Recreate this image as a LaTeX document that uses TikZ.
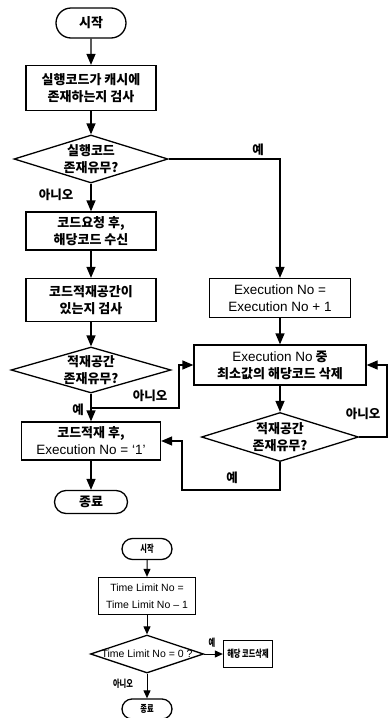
\documentclass[tikz,border=0pt]{standalone}
\usepackage{fontspec}
\setmainfont{Noto Sans CJK KR}
\newfontfamily\narrowkr[FakeStretch=0.72]{Noto Sans CJK KR}
\newfontfamily\latin{Liberation Sans}
\usetikzlibrary{shapes.geometric,shapes.misc,arrows.meta}

\tikzset{terminal/.style={draw,rounded rectangle,minimum width=72pt,minimum height=30pt,inner sep=1pt,font=\fontsize{13}{17}\selectfont\bfseries},
process/.style={draw,rectangle,align=center,inner sep=1pt,font=\fontsize{13}{17}\selectfont\bfseries},
decision/.style={draw,diamond,aspect=3.2,align=center,inner sep=-6pt,font=\fontsize{13}{17}\selectfont\bfseries},
flow/.style={-{Triangle[length=11pt,width=9pt]}},
branch/.style={font=\fontsize{12.5}{15}\selectfont\bfseries,inner sep=1pt},
small terminal/.style={draw,rounded rectangle,minimum width=52pt,minimum height=21pt,inner sep=1pt,font=\narrowkr\fontsize{10}{12}\selectfont\bfseries},
small process/.style={draw,rectangle,align=center,inner sep=1pt,font=\latin\fontsize{10.5}{17}\selectfont},
small decision/.style={draw,diamond,aspect=2.95,inner sep=-6pt,font=\latin\fontsize{10.5}{12}\selectfont},
small flow/.style={-{Triangle[length=8pt,width=7pt]}},
small branch/.style={font=\narrowkr\fontsize{10}{12}\selectfont\bfseries,inner sep=1pt}}

\begin{document}
\begin{tikzpicture}[x=1pt,y=-1pt,line width=1.3pt]
\useasboundingbox (0,0) rectangle (388,718);

%% Coordinates of the main column
\coordinate (c0) at (91,23);
\coordinate (c1) at (91,88);
\coordinate (c2) at (91,159);
\coordinate (c3) at (91,231);
\coordinate (c4) at (91,300);
\coordinate (c5) at (91,370);
\coordinate (c6) at (91,441);
\coordinate (c7) at (91,502);

%% Coordinates of the right column
\coordinate (r1) at (280,298);
\coordinate (r2) at (280,365);
\coordinate (r3) at (280,437);

%% corners of the loops
\coordinate (j1) at (91,408);
\coordinate (j2) at (179,408);
\coordinate (k1) at (387,437);
\coordinate (k3) at (182,490);

%% Coordinates of the small chart
\coordinate (b0) at (147,549);
\coordinate (b1) at (147,596);
\coordinate (b2) at (147,654);
\coordinate (b3) at (248,654);
\coordinate (b4) at (147,709);

%% main column
\node [terminal] (start) at (c0) {시작};
\node [process,minimum width=130pt,minimum height=45pt] (check) at (c1) {실행코드가 캐시에\\존재하는지 검사};
\node [decision,minimum width=154pt,minimum height=48pt] (found) at (c2) {실행코드\\존재유무?};
\node [process,minimum width=130pt,minimum height=38pt] (fetch) at (c3) {코드요청 후,\\해당코드 수신};
\node [process,minimum width=130pt,minimum height=43pt] (space) at (c4) {코드적재공간이\\있는지 검사};
\node [decision,minimum width=160pt,minimum height=46pt] (room) at (c5) {적재공간\\존재유무?};
\node [process,minimum width=139pt,minimum height=38pt] (load) at (c6) {코드적재 후,\\{\latin\mdseries\fontsize{13.5}{17}\selectfont Execution No = ‘1’}};
\node [terminal,minimum width=75pt,minimum height=23pt] (stop) at (c7) {종료};

%% right column
\node [process,minimum width=141pt,minimum height=39pt,font=\latin\fontsize{13.5}{17}\selectfont] (count) at (r1) {Execution No =\\Execution No + 1};
\node [process,minimum width=172pt,minimum height=40pt] (delete) at (r2) {{\latin\mdseries\fontsize{13.5}{17}\selectfont Execution No} 중\\최소값의 해당코드 삭제};
\node [decision,minimum width=157pt,minimum height=49pt] (room2) at (r3) {적재공간\\존재유무?};

%% small chart
\node [small terminal] (start2) at (b0) {시작};
\node [small process,minimum width=97pt,minimum height=37pt] (dec) at (b1) {Time Limit No =\\Time Limit No – 1};
\node [small decision,minimum width=113pt,minimum height=38pt] (zero) at (b2) {Time Limit No = 0 ?};
\node [small process,minimum width=49pt,minimum height=27pt,font=\narrowkr\fontsize{10}{12}\selectfont\bfseries] (remove) at (b3) {해당 코드삭제};
\node [small terminal,minimum height=20pt] (stop2) at (b4) {종료};

%% connectors
\draw [flow] (start) -- (check);
\draw [flow] (check) -- (found);
\draw [flow] (found) -- (fetch);
\draw [flow] (fetch) -- (space);
\draw [flow] (space) -- (room);
\draw [flow] (room) -- (load);
\draw [flow] (load) -- (stop);
\draw [flow] (found.east) -| (count.north);
\draw [flow] (count) -- (delete);
\draw [flow] (delete) -- (room2);
\draw [flow] (j1) -- (j2) |- (delete.west);
\draw [flow] (room2.east) -- (k1) |- (delete.east);
\draw [flow] (room2.south) |- (k3) |- (load.east);

\draw [small flow,line width=1pt] (start2) -- (dec);
\draw [small flow,line width=1pt] (dec) -- (zero);
\draw [small flow,line width=1pt] (zero) -- (remove);
\draw [small flow,line width=1pt] (zero) -- (stop2);

%% branch labels
\node [branch] (yes1) at (258,150) {예};
\node [branch] (no1) at (56,195) {아니오};
\node [branch] (yes2) at (78,410) {예};
\node [branch] (no2) at (150,396) {아니오};
\node [branch] (no3) at (363,414) {아니오};
\node [branch] (yes3) at (232,478) {예};
\node [small branch] (yes4) at (212,643) {예};
\node [small branch] (no4) at (123,684) {아니오};

\end{tikzpicture}
\end{document}
